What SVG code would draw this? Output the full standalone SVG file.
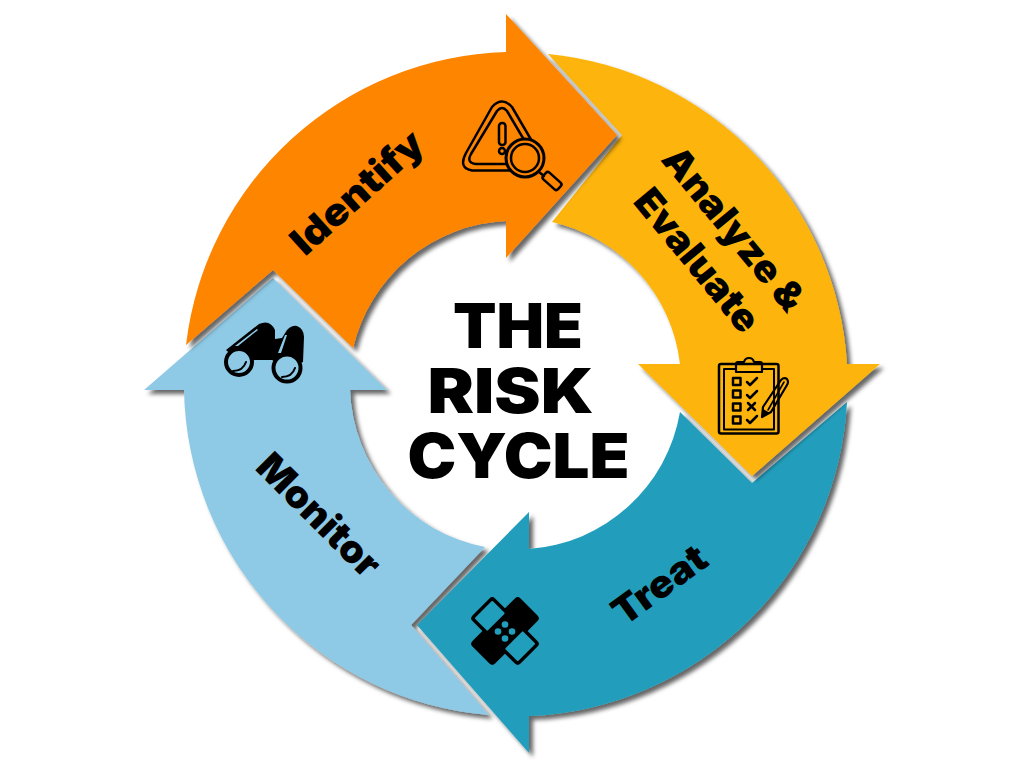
<svg xmlns="http://www.w3.org/2000/svg" width="1024" height="768" viewBox="0 0 1024 768">
<style>
.seg{filter:url(#sh)}
.lbl{font-family:Inter,"Liberation Sans",sans-serif;font-weight:900;fill:#000;font-size:38px}
.title{font-family:Inter,"Liberation Sans",sans-serif;font-weight:900;fill:#000;font-size:62px;text-anchor:middle}
.ln{fill:none;stroke:#000;stroke-linejoin:round;stroke-linecap:round}
</style>
<defs>
<filter id="sh" x="-10%" y="-10%" width="125%" height="125%"><feDropShadow dx="4" dy="4" stdDeviation="2" flood-color="#000" flood-opacity=".6"/></filter>
</defs>
<rect width="1024" height="768" fill="#fff"/>
<g id="connectors"/>
<g id="monitor">
<path class="seg" fill="#8ecae6" d="M273 278L387 390H350A166 166 0 0 0 485 547L411 625L489 715A332 332 0 0 1 184 390H144Z"/>
<text class="lbl" transform="translate(254 469) rotate(45)" textLength="157" lengthAdjust="spacingAndGlyphs">Monitor</text>
<g>
<path fill="#000" d="M226 350L259 324Q270 319 275 330L275 339L282 338L287 330Q292 325 297 326Q304 329 304 337L303 362L287 368L272 360L255 360L239 362Z"/>
<path fill="#8ecae6" d="M235 346L257 329L258 330L238 346ZM278 353L285 335L287 335L281 353Z"/>
<circle cx="239" cy="362" r="13" fill="#8ecae6" stroke="#000" stroke-width="4"/>
<circle cx="287" cy="368" r="13.500" fill="#8ecae6" stroke="#000" stroke-width="4"/>
<path class="ln" stroke-width="2" d="M233 371Q243 371 246 362M282 377Q292 377 295 368"/>
</g>
</g>
<g id="treat">
<path class="seg" fill="#219ebc" d="M417 625L529 512V549A165 165 0 0 0 680 412L752 483L847 402A332 332 0 0 1 529 716V753Z"/>
<text class="lbl" transform="translate(624 627) rotate(-36)" textLength="107" lengthAdjust="spacingAndGlyphs">Treat</text>
<g>
<rect x="-34" y="-16" width="68" height="32" rx="4" transform="translate(505 631) rotate(45)" fill="#000"/>
<rect x="-34" y="-16" width="68" height="32" rx="4" transform="translate(505 631) rotate(-45)" fill="#000"/>
<rect x="-30.500" y="-12.500" width="18" height="25" rx="1" transform="translate(505 631) rotate(45)" fill="#219ebc"/>
<rect x="12.500" y="-12.500" width="18" height="25" rx="1" transform="translate(505 631) rotate(45)" fill="#219ebc"/>
<circle cx="505" cy="624.500" r="3.300" fill="#219ebc"/><circle cx="498" cy="631.500" r="3.300" fill="#219ebc"/><circle cx="512" cy="631.500" r="3.300" fill="#219ebc"/><circle cx="505" cy="638.500" r="3.300" fill="#219ebc"/>
</g>
</g>
<g id="analyze">
<path class="seg" fill="#fdb508" d="M548 54A332 332 0 0 1 847 364H880L752 476L638 364H680A165 165 0 0 0 552 222L622 135Z"/>
<text class="lbl" transform="translate(660 160) rotate(50.500)" textLength="200" lengthAdjust="spacingAndGlyphs">Analyze &amp;</text>
<text class="lbl" transform="translate(632 202) rotate(50.500)" textLength="173" lengthAdjust="spacingAndGlyphs">Evaluate</text>
<g>
<rect x="719" y="364" width="59.500" height="69.500" rx="2" class="ln" stroke-width="2.500"/>
<path class="ln" stroke-width="2" d="M736 369H724V429.500H774V369H762"/>
<path class="ln" stroke-width="2.200" fill="#fdb508" d="M736 372V364Q736 362 738 362H744Q745 358 749 358Q753 358 754 362H760Q762 362 762 364V372Z"/>
<g class="ln" stroke-width="2.500">
<rect x="733" y="378" width="7.500" height="7"/><rect x="733" y="390.500" width="7.500" height="7"/><rect x="733" y="403.500" width="7.500" height="7"/><rect x="733" y="416.500" width="7.500" height="7"/>
<path d="M747 382L750 385L757 378M747 395L750 398L757 391M748 403L755 410M755 403L748 410M747 420L750 423L757 416"/>
</g>
<path class="ln" stroke-width="2.200" fill="#fdb508" d="M763 407L781 380Q784 377 787 379Q789 382 787 385L771 412L762 417Z"/>
<path class="ln" stroke-width="1.600" d="M768 410L784 382"/>
<path d="M762 417L763 409L770 413Z"/>
</g>
</g>
<g id="identify">
<path class="seg" fill="#fd8500" d="M186 345A332 332 0 0 1 506 52V14L617 135L506 258V221A165 165 0 0 0 353 348L273 270Z"/>
<text class="lbl" transform="translate(305 257) rotate(-42)" textLength="164" lengthAdjust="spacingAndGlyphs">Identify</text>
<g>
<path class="ln" stroke-width="2.500" d="M515 170.500H472Q458 168 466 153L492 107Q502 96 512 107L540 155"/>
<path class="ln" stroke-width="2.500" d="M515 164H476Q466 163 471 154L497 111Q502 105 507 111L530 150"/>
<rect x="499" y="123" width="6.500" height="22" rx="3" class="ln" stroke-width="2.500"/>
<circle cx="502" cy="151" r="3" class="ln" stroke-width="2.500"/>
<circle cx="525" cy="158" r="19" fill="#fd8500" stroke="#000" stroke-width="3"/>
<circle cx="525" cy="158" r="14" fill="none" stroke="#000" stroke-width="2.500"/>
<path class="ln" stroke-width="2.500" d="M539 172L544 176"/>
<rect x="-10" y="-4.500" width="20" height="9" rx="2.500" transform="translate(552 181) rotate(42)" class="ln" stroke-width="2.500"/>
</g>
</g>
<g id="title">
<text class="title" x="518" y="348" textLength="130" lengthAdjust="spacingAndGlyphs">THE</text>
<text class="title" x="510.500" y="413" textLength="166" lengthAdjust="spacingAndGlyphs">RISK</text>
<text class="title" x="518.500" y="478" textLength="222" lengthAdjust="spacingAndGlyphs">CYCLE</text>
</g>
</svg>
